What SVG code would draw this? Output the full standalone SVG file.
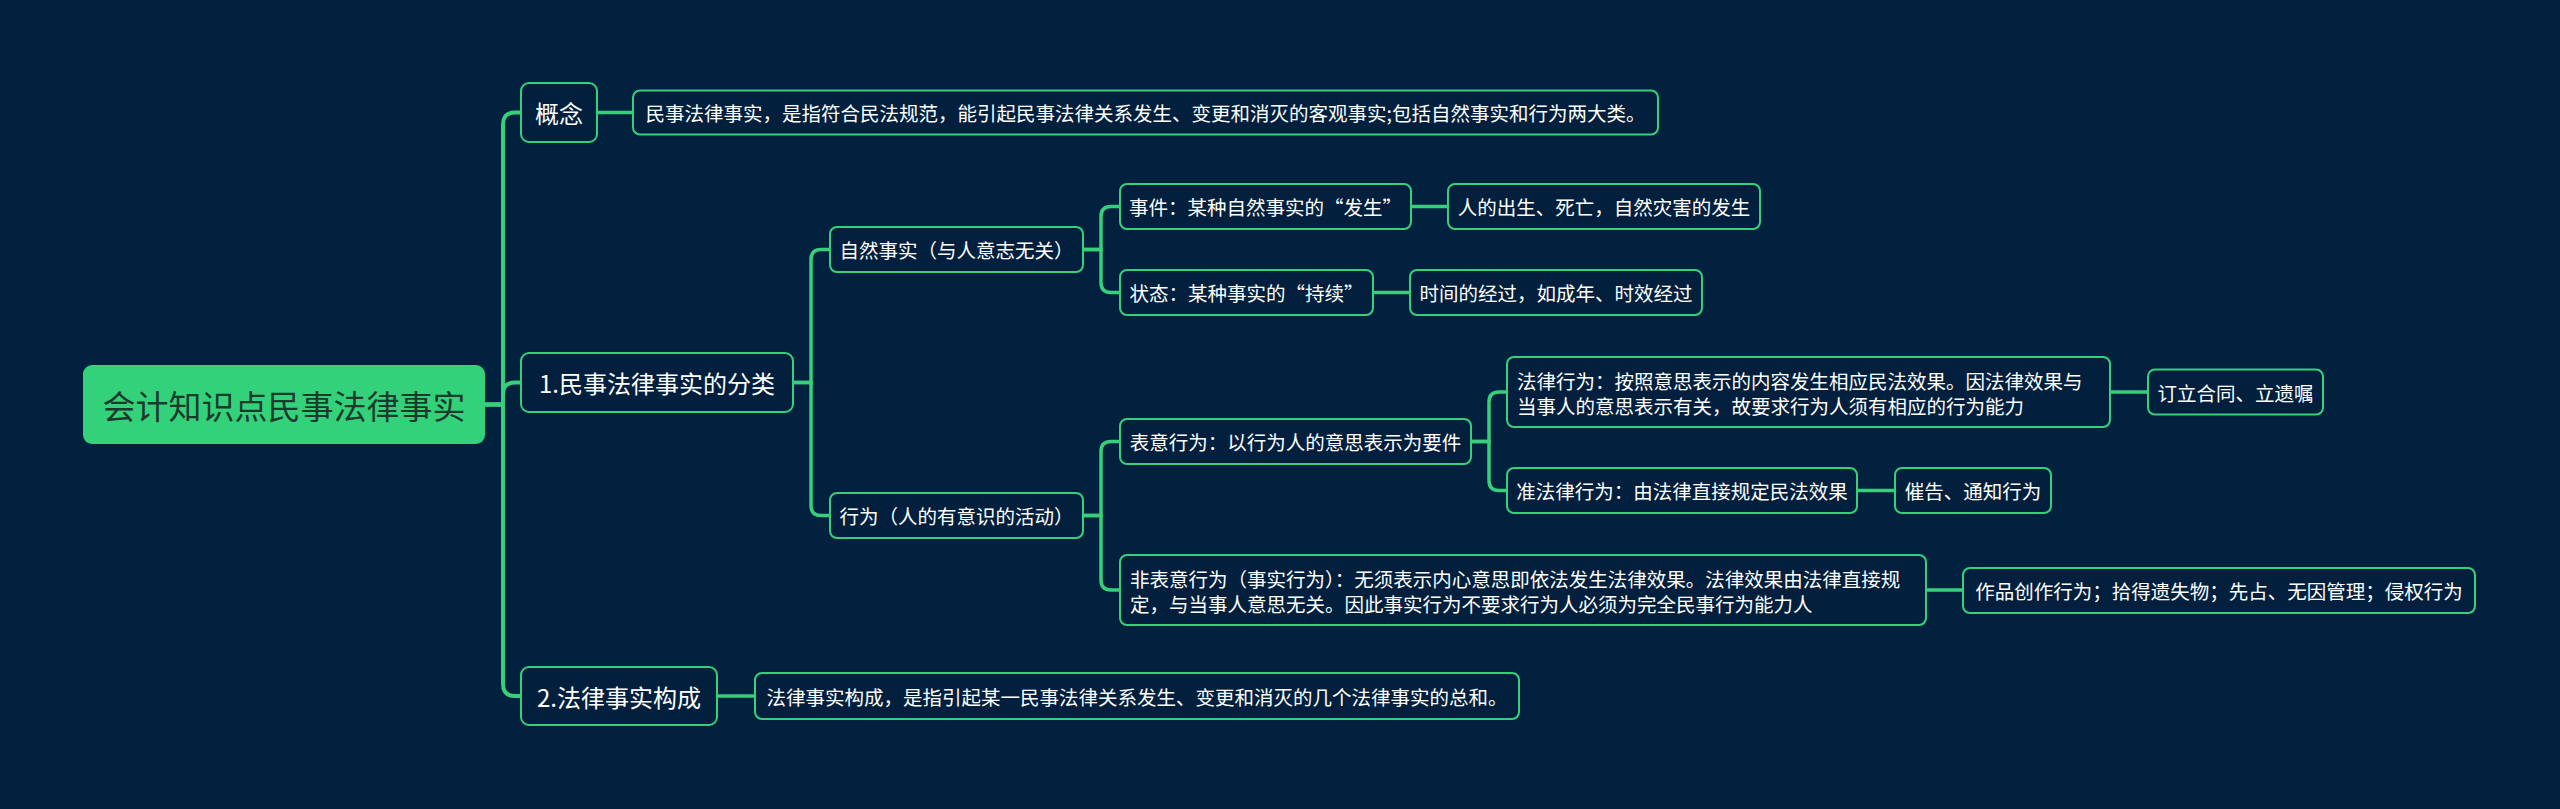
<svg xmlns="http://www.w3.org/2000/svg" width="2560" height="809" viewBox="0 0 2560 809">
<style>
.bg{fill:#02213f}
.n{fill:#02203d;stroke:#36d07a;stroke-width:2}
.t{font-family:"Noto Sans CJK SC","Noto Sans",sans-serif;fill:#ffffff;dominant-baseline:central}
.t1{font-size:24px;text-anchor:middle}
.t2{font-size:19.5px;text-anchor:middle}
.tl{font-size:19.5px}
.c1{fill:none;stroke:#36d07a;stroke-width:4}
.c2{fill:none;stroke:#36d07a;stroke-width:3.5}
</style>
<rect class="bg" x="0" y="0" width="2560" height="809"/>
<g id="connectors">
<path class="c1" d="M485,404.5 H503 V124.5 Q503,112.5 515,112.5 H521"/>
<path class="c1" d="M485,404.5 H503 V394.5 Q503,382.5 515,382.5 H521"/>
<path class="c1" d="M485,404.5 H503 V684 Q503,696 515,696 H521"/>
<path class="c2" d="M597,112.5 H633"/>
<path class="c2" d="M793,382.5 H811 V259.5 Q811,249.5 821,249.5 H830"/>
<path class="c2" d="M793,382.5 H811 V505.5 Q811,515.5 821,515.5 H830"/>
<path class="c2" d="M717,696 H755"/>
<path class="c2" d="M1083,249.5 H1101 V216.5 Q1101,206.5 1111,206.5 H1120"/>
<path class="c2" d="M1083,249.5 H1101 V282.5 Q1101,292.5 1111,292.5 H1120"/>
<path class="c2" d="M1411,206.5 H1448"/>
<path class="c2" d="M1373,292.5 H1410"/>
<path class="c2" d="M1083,515.5 H1101 V451.5 Q1101,441.5 1111,441.5 H1120"/>
<path class="c2" d="M1083,515.5 H1101 V580 Q1101,590 1111,590 H1120"/>
<path class="c2" d="M1471,441.5 H1489 V402 Q1489,392 1499,392 H1507"/>
<path class="c2" d="M1471,441.5 H1489 V480.5 Q1489,490.5 1499,490.5 H1507"/>
<path class="c2" d="M2110,392 H2148"/>
<path class="c2" d="M1857,490.5 H1895"/>
<path class="c2" d="M1926,590 H1963"/>
</g>
<g id="root">
<rect x="83" y="365" width="402" height="79" rx="9" fill="#33d17a"/>
<text class="t" x="284" y="404.5" font-size="33" text-anchor="middle" style="fill:#1b3a2c">会计知识点民事法律事实</text>
</g>
<g id="n_concept">
<rect class="n" x="521" y="83" width="76" height="59" rx="8"/>
<text class="t t1" x="559" y="112.5">概念</text>
</g>
<g id="n_concept_desc">
<rect class="n" x="633" y="90.5" width="1025" height="44" rx="7"/>
<text class="t t2" x="1145.5" y="112.5">民事法律事实，是指符合民法规范，能引起民事法律关系发生、变更和消灭的客观事实;包括自然事实和行为两大类。</text>
</g>
<g id="n_class">
<rect class="n" x="521" y="353" width="272" height="59" rx="8"/>
<text class="t t1" x="657" y="382.5">1.民事法律事实的分类</text>
</g>
<g id="n_comp">
<rect class="n" x="521" y="667" width="196" height="58" rx="8"/>
<text class="t t1" x="619" y="696">2.法律事实构成</text>
</g>
<g id="n_comp_desc">
<rect class="n" x="755" y="673" width="764" height="46" rx="7"/>
<text class="t t2" x="1137" y="696">法律事实构成，是指引起某一民事法律关系发生、变更和消灭的几个法律事实的总和。</text>
</g>
<g id="n_natural">
<rect class="n" x="830" y="227" width="253" height="45" rx="7"/>
<text class="t t2" x="956.5" y="249.5">自然事实（与人意志无关）</text>
</g>
<g id="n_event">
<rect class="n" x="1120" y="184" width="291" height="45" rx="7"/>
<text class="t t2" x="1265.5" y="206.5">事件：某种自然事实的“发生”</text>
</g>
<g id="n_event_ex">
<rect class="n" x="1448" y="184" width="312" height="45" rx="7"/>
<text class="t t2" x="1604" y="206.5">人的出生、死亡，自然灾害的发生</text>
</g>
<g id="n_state">
<rect class="n" x="1120" y="270" width="253" height="45" rx="7"/>
<text class="t t2" x="1246.5" y="292.5">状态：某种事实的“持续”</text>
</g>
<g id="n_state_ex">
<rect class="n" x="1410" y="270" width="292" height="45" rx="7"/>
<text class="t t2" x="1556" y="292.5">时间的经过，如成年、时效经过</text>
</g>
<g id="n_act">
<rect class="n" x="830" y="493" width="253" height="45" rx="7"/>
<text class="t t2" x="956.5" y="515.5">行为（人的有意识的活动）</text>
</g>
<g id="n_express">
<rect class="n" x="1120" y="419" width="351" height="45" rx="7"/>
<text class="t t2" x="1295.5" y="441.5">表意行为：以行为人的意思表示为要件</text>
</g>
<g id="n_legal">
<rect class="n" x="1507" y="357" width="603" height="70" rx="7"/>
<text class="t tl" x="1517" y="380">法律行为：按照意思表示的内容发生相应民法效果。因法律效果与</text>
<text class="t tl" x="1517" y="405">当事人的意思表示有关，故要求行为人须有相应的行为能力</text>
</g>
<g id="n_legal_ex">
<rect class="n" x="2148" y="369.5" width="175" height="45" rx="7"/>
<text class="t t2" x="2235.5" y="392">订立合同、立遗嘱</text>
</g>
<g id="n_quasi">
<rect class="n" x="1507" y="468" width="350" height="45" rx="7"/>
<text class="t t2" x="1682" y="490.5">准法律行为：由法律直接规定民法效果</text>
</g>
<g id="n_quasi_ex">
<rect class="n" x="1895" y="468" width="156" height="45" rx="7"/>
<text class="t t2" x="1973" y="490.5">催告、通知行为</text>
</g>
<g id="n_nonexp">
<rect class="n" x="1120" y="555" width="806" height="70" rx="7"/>
<text class="t tl" x="1130" y="578">非表意行为（事实行为）：无须表示内心意思即依法发生法律效果。法律效果由法律直接规</text>
<text class="t tl" x="1130" y="603">定，与当事人意思无关。因此事实行为不要求行为人必须为完全民事行为能力人</text>
</g>
<g id="n_nonexp_ex">
<rect class="n" x="1963" y="568" width="512" height="45" rx="7"/>
<text class="t t2" x="2219" y="590.5">作品创作行为；拾得遗失物；先占、无因管理；侵权行为</text>
</g>
</svg>
